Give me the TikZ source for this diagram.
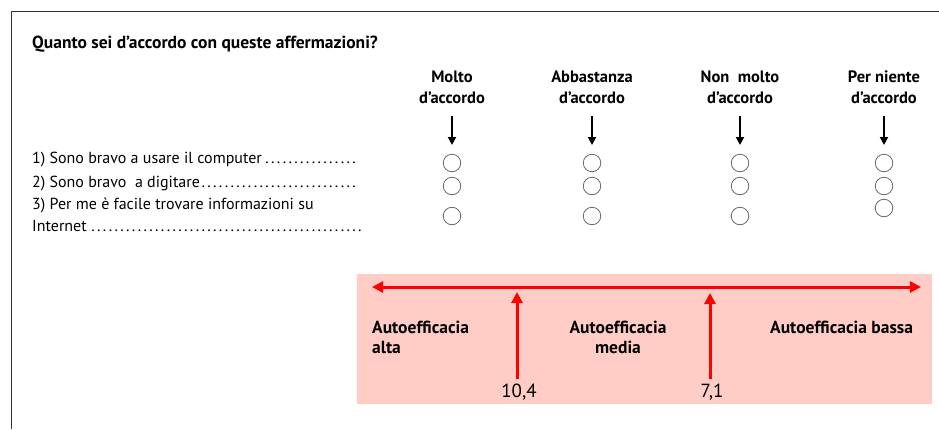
\documentclass[tikz,border=0pt]{standalone}
\usepackage{fontspec}
\setmainfont{PT Sans}
\usetikzlibrary{arrows.meta}
\definecolor{bandpink}{HTML}{FFCDC6}
\definecolor{bandred}{HTML}{FF0000}
\newcommand{\dotlead}{\leaders\hbox to 5.8pt{\hss.\hss}\hfill}
\begin{document}
\begin{tikzpicture}[x=1pt,y=-1pt,
  hdr/.style={font=\bfseries\fontsize{16.5}{21}\selectfont,align=center,inner sep=0},
  rowtxt/.style={font=\fontsize{16}{20}\selectfont,anchor=west,inner sep=0,align=left},
  titletxt/.style={font=\bfseries\fontsize{17.5}{20}\selectfont,anchor=west,inner sep=0},
  opt/.style={circle,draw=black!60,line width=0.8pt,minimum size=17.5pt,inner sep=0},
  darr/.style={-{Triangle[length=8pt,width=8pt]},line width=1.8pt,black},
  rarr/.style={-{Triangle[length=11pt,width=11pt]},line width=3pt,bandred},
  lbl/.style={font=\bfseries\fontsize{17.5}{20}\selectfont,inner sep=0,align=left},
  num/.style={font=\fontsize{19}{20}\selectfont,inner sep=0}]
\useasboundingbox (0,0) rectangle (939,429);
\draw[line width=1pt,black!80] (11,429) -- (11,11) -- (939,11);
\node[titletxt] (title) at (32,44) {Quanto sei d’accordo con queste affermazioni?};
% headers
\node[hdr] (h1) at (452,87) {Molto\\d’accordo};
\node[hdr] (h2) at (592,87) {Abbastanza\\d’accordo};
\node[hdr] (h3) at (740,87) {Non\ \ molto\\d’accordo};
\node[hdr] (h4) at (884,87) {Per niente\\d’accordo};
% arrow coordinates
\foreach \i/\x in {1/452,2/592,3/740,4/884}{
  \coordinate (s\i) at (\x,116);
  \coordinate (e\i) at (\x,145);
}
\foreach \i in {1,...,4}{\draw[darr] (s\i) -- (e\i);}
% circles
\foreach \i/\x in {1/452,2/592,3/740}{
  \node[opt] (c\i a) at (\x,163) {};
  \node[opt] (c\i b) at (\x,186) {};
  \node[opt] (c\i c) at (\x,216) {};
}
\node[opt] (c4a) at (884,163) {};
\node[opt] (c4b) at (884,186) {};
\node[opt] (c4c) at (884,208) {};
% rows
\node[rowtxt] (r1) at (32,160) {\makebox[330pt][l]{1) Sono bravo a usare il computer\dotlead}};
\node[rowtxt] (r2) at (32,184) {\makebox[330pt][l]{2) Sono bravo\ \ a digitare\dotlead}};
\node[rowtxt] (r3) at (32,205) {3) Per me è facile trovare informazioni su};
\node[rowtxt] (r4) at (32,226) {\makebox[336pt][l]{Internet\dotlead}};
% band
\fill[bandpink] (357,274) rectangle (932,404);
\coordinate (bl) at (372,287);
\coordinate (br) at (921,287);
\draw[rarr,{Triangle[length=11pt,width=11pt]}-{Triangle[length=11pt,width=11pt]}] (bl) -- (br);
\coordinate (v1s) at (517,379);
\coordinate (v1e) at (517,292);
\coordinate (v2s) at (710,379);
\coordinate (v2e) at (710,293);
\draw[rarr] (v1s) -- (v1e);
\draw[rarr] (v2s) -- (v2e);
\node[lbl,anchor=north west] (la) at (372,321) {Autoefficacia\\alta};
\node[lbl,anchor=north,align=center] (lm) at (618,321) {Autoefficacia\\media};
\node[lbl,anchor=north west] (lb) at (770,321) {Autoefficacia bassa};
\node[num] (n1) at (519,392) {10,4};
\node[num] (n2) at (712,392) {7,1};
\end{tikzpicture}
\end{document}
